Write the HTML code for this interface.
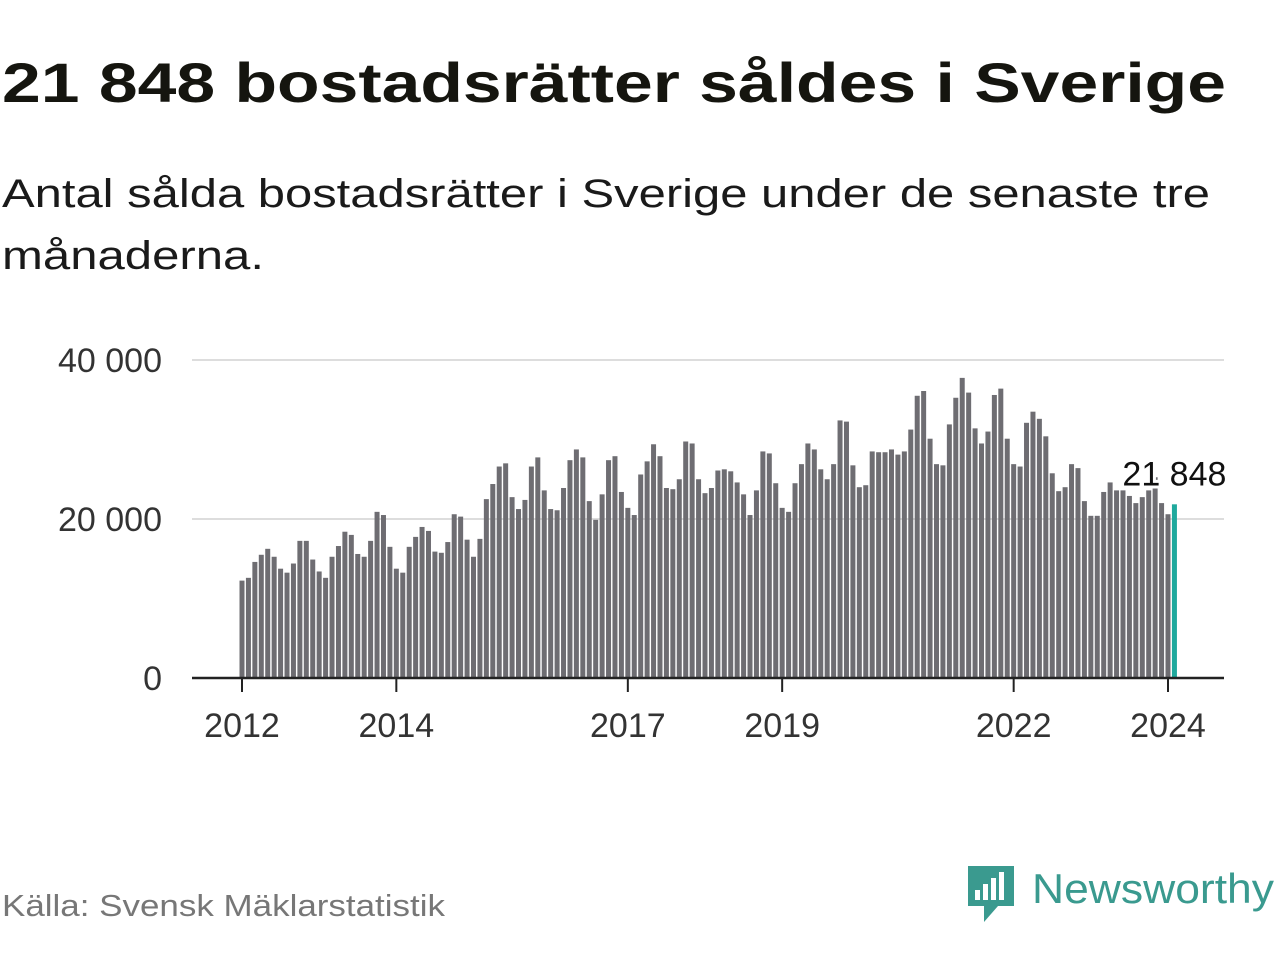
<!DOCTYPE html>
<html><head><meta charset="utf-8">
<style>
html,body{margin:0;padding:0;background:#fff;width:1280px;height:960px;overflow:hidden}
svg{display:block}
text{font-family:"Liberation Sans","DejaVu Sans",sans-serif}
</style></head>
<body>
<svg id="chart" width="1280" height="960" viewBox="0 0 1280 960" xmlns="http://www.w3.org/2000/svg">
<text x="2" y="102" font-size="56" font-weight="bold" fill="#15150f" textLength="1224" lengthAdjust="spacingAndGlyphs">21 848 bostadsrätter såldes i Sverige</text>
<text x="2" y="207" font-size="40" fill="#1a1a1a" textLength="1208" lengthAdjust="spacingAndGlyphs">Antal sålda bostadsrätter i Sverige under de senaste tre</text>
<text x="2" y="269" font-size="40" fill="#1a1a1a" textLength="262" lengthAdjust="spacingAndGlyphs">månaderna.</text>
<g id="grid"></g><g id="bars"></g><g id="axes"></g>
<text x="2" y="916" font-size="31" fill="#777" textLength="443" lengthAdjust="spacingAndGlyphs">Källa: Svensk Mäklarstatistik</text>
<g>
<path d="M968 866 h46 v40 h-16 l-14 16 v-16 h-16 z" fill="#3a9a8f"/>
<rect x="975" y="890" width="5" height="10" fill="#fff"/><rect x="983" y="884" width="5" height="16" fill="#fff"/>
<rect x="991" y="878" width="5" height="22" fill="#fff"/><rect x="999" y="872" width="5" height="28" fill="#fff"/>
<text x="1032" y="903" font-size="42" fill="#3a9a8f" textLength="242" lengthAdjust="spacingAndGlyphs">Newsworthy</text>
</g>
</svg>
<script>
const values=[12250,12600,14600,15500,16250,15250,13750,13250,14400,17250,17250,14900,
13400,12600,15250,16600,18400,18000,15600,15250,17250,20900,20500,16500,
13750,13250,16500,17750,19000,18500,15900,15750,17100,20600,20300,17400,
15250,17500,22500,24400,26600,27000,22750,21250,22400,26600,27750,23600,
21250,21100,23900,27400,28750,27750,22250,19900,23100,27400,27900,23400,
21400,20500,25600,27250,29400,27900,23900,23750,25000,29750,29500,25000,
23250,23900,26100,26250,26000,24600,23100,20500,23600,28500,28250,24500,
21400,20900,24500,26900,29500,28750,26250,25000,26900,32400,32250,26750,
24000,24250,28500,28400,28400,28750,28100,28500,31250,35500,36100,30100,
26900,26750,31900,35250,37750,35900,31400,29500,31000,35600,36400,30100,
26900,26600,32100,33500,32600,30400,25750,23500,24000,26900,26400,22250,
20400,20400,23400,24600,23600,23600,22900,22000,22750,23600,25250,22000,
20600,21848];
const yTicks=[0,20000,40000];
const yTickLabels=["0","20 000","40 000"];
const xTickYears=[2012,2014,2017,2019,2022,2024];
const startYear=2012;
const NS="http://www.w3.org/2000/svg";
const y=v=>678-v*(318/40000);
const x=i=>242+i*(926/144);
const xYear=yr=>x((yr-startYear)*12);
function mk(tag,attrs,parent){const e=document.createElementNS(NS,tag);for(const k in attrs)e.setAttribute(k,attrs[k]);parent.appendChild(e);return e;}
const grid=document.getElementById('grid'),bars=document.getElementById('bars'),axes=document.getElementById('axes');
yTicks.forEach((t,i)=>{
  if(t>0){const l=mk('line',{x1:192,x2:1224,y1:y(t),y2:y(t),stroke:'#ddd','stroke-width':2},grid);
  
  }
  const tx=mk('text',{x:162,y:y(t)+12,'font-size':34,fill:'#333','text-anchor':'end'},axes);
  tx.textContent=yTickLabels[i];
  
  
});
values.forEach((v,i)=>{
  const last=i===values.length-1;
  const r=mk('rect',{x:x(i)-2.5,y:y(v),width:5,height:678-y(v),fill:last?'#1fa99d':'#6e6d72'},bars);
  
  
});
const base=mk('line',{x1:192,x2:1224,y1:678,y2:678,stroke:'#222','stroke-width':2.5},axes);


xTickYears.forEach(yr=>{
  const xx=xYear(yr);
  const tk=mk('line',{x1:xx,x2:xx,y1:678,y2:692,stroke:'#222','stroke-width':2},axes);
  
  
  const tx=mk('text',{x:xx,y:737,'font-size':34,fill:'#333','text-anchor':'middle'},axes);
  tx.textContent=String(yr);
  
  
});
const lastI=values.length-1;
const lbl=mk('text',{x:x(lastI),y:y(values[lastI])-19,'font-size':34,fill:'#111','text-anchor':'middle',stroke:'#fff','stroke-width':6,'paint-order':'stroke'},axes);
lbl.textContent=values[lastI].toLocaleString('sv-SE').replace(/\s/g,' ');


</script>
</body></html>
